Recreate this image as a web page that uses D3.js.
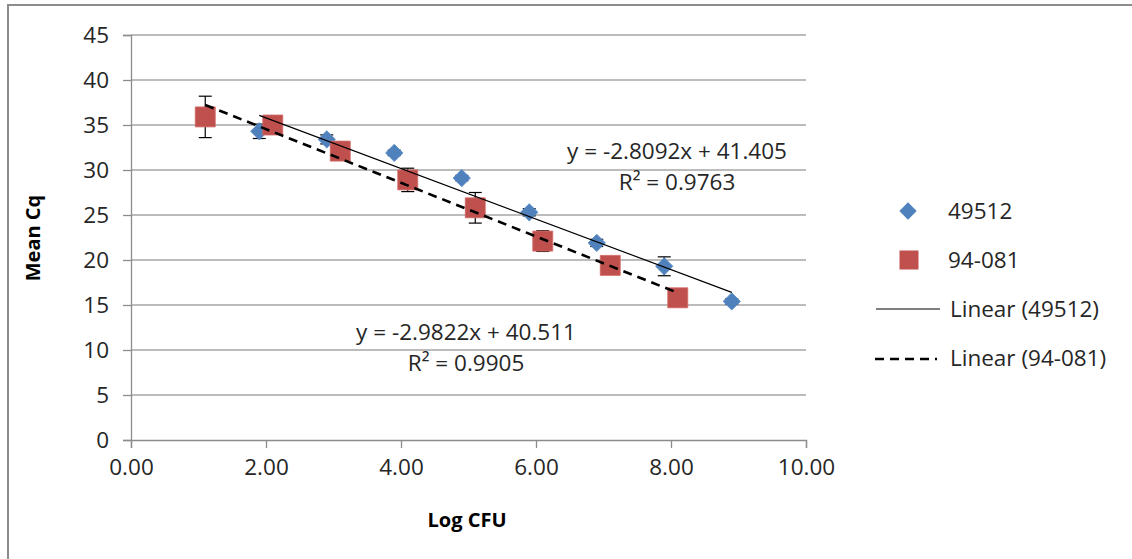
<!DOCTYPE html>
<html>
<head>
<meta charset="utf-8">
<script src="https://cdn.jsdelivr.net/npm/d3@7"></script>
<style>
  body { margin: 0; background: white; }
  text { font-family: "Open Sans", sans-serif; fill: #262626; }
  .tick text { font-size: 22.5px; }
  .title { font-size: 20px; font-weight: bold; fill: #000; }
  .eq { font-size: 22.5px; }
  .leyenda { font-size: 22.5px; }
</style>
</head>
<body>
<svg id="plot"></svg>
<script>
const width = 1132;
const height = 559;

// datos
const logCfu49512 = [1.9, 2.9, 3.9, 4.9, 5.9, 6.9, 7.9, 8.9];
const cq49512 = [34.3, 33.4, 31.9, 29.1, 25.3, 21.9, 19.3, 15.4];
const err49512 = [0.8, 0.5, 0.3, 0.3, 0.4, 0.4, 1.05, 0.3];

const logCfu94081 = [1.1, 2.1, 3.1, 4.1, 5.1, 6.1, 7.1, 8.1];
const cq94081 = [35.9, 35.0, 32.1, 28.9, 25.8, 22.1, 19.4, 15.8];
const err94081 = [2.3, 0.6, 1.0, 1.3, 1.7, 1.15, 0.4, 0.3];

// lineas de tendencia (ecuaciones del grafico)
const slopes = [-2.8092, -2.9822];
const intercepts = [41.405, 40.511];
const r2 = ["0.9763", "0.9905"];

const xTicks = [0, 2, 4, 6, 8, 10];
const yTicks = [0, 5, 10, 15, 20, 25, 30, 35, 40, 45];

const plot = d3.select("#plot")
  .attr("width", width)
  .attr("height", height);

// marco
plot.append("rect")
  .attr("x", 8).attr("y", 5)
  .attr("width", 1140).attr("height", 570)
  .attr("fill", "white")
  .attr("stroke", "#8c8c8c")
  .attr("stroke-width", 2);

const xScale = d3.scaleLinear().domain([0, 10]).range([131, 806]);
const yScale = d3.scaleLinear().domain([0, 45]).range([440, 35]);

// rejilla
plot.append("g")
  .selectAll("line")
  .data(yTicks.filter(d => d > 0))
  .enter()
  .append("line")
  .attr("x1", xScale(0)).attr("x2", xScale(10))
  .attr("y1", d => yScale(d)).attr("y2", d => yScale(d))
  .attr("stroke", "#a6a6a6")
  .attr("stroke-width", 1.3);

// ejes
const xAxis = plot.append("g")
  .attr("transform", "translate(0," + yScale(0) + ")")
  .call(d3.axisBottom(xScale).tickValues(xTicks).tickFormat(d3.format(".2f")).tickSizeOuter(0).tickSize(8).tickPadding(11));

const yAxis = plot.append("g")
  .attr("transform", "translate(" + xScale(0) + ",0)")
  .call(d3.axisLeft(yScale).tickValues(yTicks).tickSizeOuter(0).tickSize(8).tickPadding(14));

[xAxis, yAxis].forEach(a => {
  a.select(".domain").attr("stroke", "#8c8c8c").attr("stroke-width", 1.3);
  a.selectAll(".tick line").attr("stroke", "#8c8c8c").attr("stroke-width", 1.3);
  a.selectAll(".tick text").attr("fill", "#262626");
});
xAxis.selectAll(".tick text").attr("dy", "0.71em");

// barras de error
function errorBars(xs, ys, es) {
  const g = plot.append("g").attr("stroke", "#000").attr("stroke-width", 1.2);
  xs.forEach((x, i) => {
    const cx = xScale(x);
    const y1 = yScale(ys[i] + es[i]);
    const y2 = yScale(ys[i] - es[i]);
    g.append("line").attr("x1", cx).attr("x2", cx).attr("y1", y1).attr("y2", y2);
    g.append("line").attr("x1", cx - 6.5).attr("x2", cx + 6.5).attr("y1", y1).attr("y2", y1);
    g.append("line").attr("x1", cx - 6.5).attr("x2", cx + 6.5).attr("y1", y2).attr("y2", y2);
  });
}
errorBars(logCfu49512, cq49512, err49512);
errorBars(logCfu94081, cq94081, err94081);

// marcadores
const diamond = d3.symbol().type(d3.symbolSquare).size(150);
const square = d3.symbol().type(d3.symbolSquare).size(400);

plot.append("g")
  .selectAll("path")
  .data(logCfu49512)
  .enter()
  .append("path")
  .attr("d", diamond)
  .attr("transform", (d, i) => "translate(" + xScale(d) + "," + yScale(cq49512[i]) + ") rotate(45)")
  .attr("fill", "#4f81bd")
  .attr("stroke", "#5b8cc6")
  .attr("stroke-width", 0.8);

plot.append("g")
  .selectAll("path")
  .data(logCfu94081)
  .enter()
  .append("path")
  .attr("d", square)
  .attr("transform", (d, i) => "translate(" + xScale(d) + "," + yScale(cq94081[i]) + ")")
  .attr("fill", "#c0504d")
  .attr("stroke", "#d06a67")
  .attr("stroke-width", 0.8);

// tendencias
function trend(xs, k, dash, sw) {
  const x0 = d3.min(xs), x1 = d3.max(xs);
  plot.append("line")
    .attr("x1", xScale(x0)).attr("y1", yScale(slopes[k] * x0 + intercepts[k]))
    .attr("x2", xScale(x1)).attr("y2", yScale(slopes[k] * x1 + intercepts[k]))
    .attr("stroke", "#000")
    .attr("stroke-width", sw)
    .attr("stroke-dasharray", dash);
}
trend(logCfu49512, 0, null, 1.2);
trend(logCfu94081, 1, "9,6", 2.6);

// ecuaciones
function ecuacion(k, cx, y) {
  plot.append("text").attr("class", "eq")
    .attr("x", cx).attr("y", y)
    .attr("text-anchor", "middle")
    .text("y = " + slopes[k] + "x + " + intercepts[k]);
  plot.append("text").attr("class", "eq")
    .attr("x", cx).attr("y", y + 31)
    .attr("text-anchor", "middle")
    .text("R² = " + r2[k]);
}
ecuacion(0, 677, 159);
ecuacion(1, 466, 340);

// titulos de ejes
plot.append("text").attr("class", "title")
  .attr("x", 467).attr("y", 527)
  .attr("text-anchor", "middle")
  .text("Log CFU");

plot.append("text").attr("class", "title")
  .attr("transform", "translate(40,238) rotate(-90)")
  .attr("text-anchor", "middle")
  .text("Mean Cq");

// leyenda
const leyenda = plot.append("g");
leyenda.append("path").attr("d", d3.symbol().type(d3.symbolSquare).size(150))
  .attr("transform", "translate(908,211) rotate(45)")
  .attr("fill", "#4f81bd");
leyenda.append("text").attr("class", "leyenda").attr("x", 948).attr("y", 219).text("49512");

leyenda.append("path").attr("d", d3.symbol().type(d3.symbolSquare).size(361))
  .attr("transform", "translate(909,260)")
  .attr("fill", "#c0504d");
leyenda.append("text").attr("class", "leyenda").attr("x", 948).attr("y", 268).text("94-081");

leyenda.append("line").attr("x1", 876).attr("x2", 940).attr("y1", 309).attr("y2", 309)
  .attr("stroke", "#000").attr("stroke-width", 1.2);
leyenda.append("text").attr("class", "leyenda").attr("x", 950).attr("y", 317).text("Linear (49512)");

leyenda.append("line").attr("x1", 875).attr("x2", 937).attr("y1", 359).attr("y2", 359)
  .attr("stroke", "#000").attr("stroke-width", 2.6).attr("stroke-dasharray", "9,6");
leyenda.append("text").attr("class", "leyenda").attr("x", 950).attr("y", 366).text("Linear (94-081)");
</script>
</body>
</html>
